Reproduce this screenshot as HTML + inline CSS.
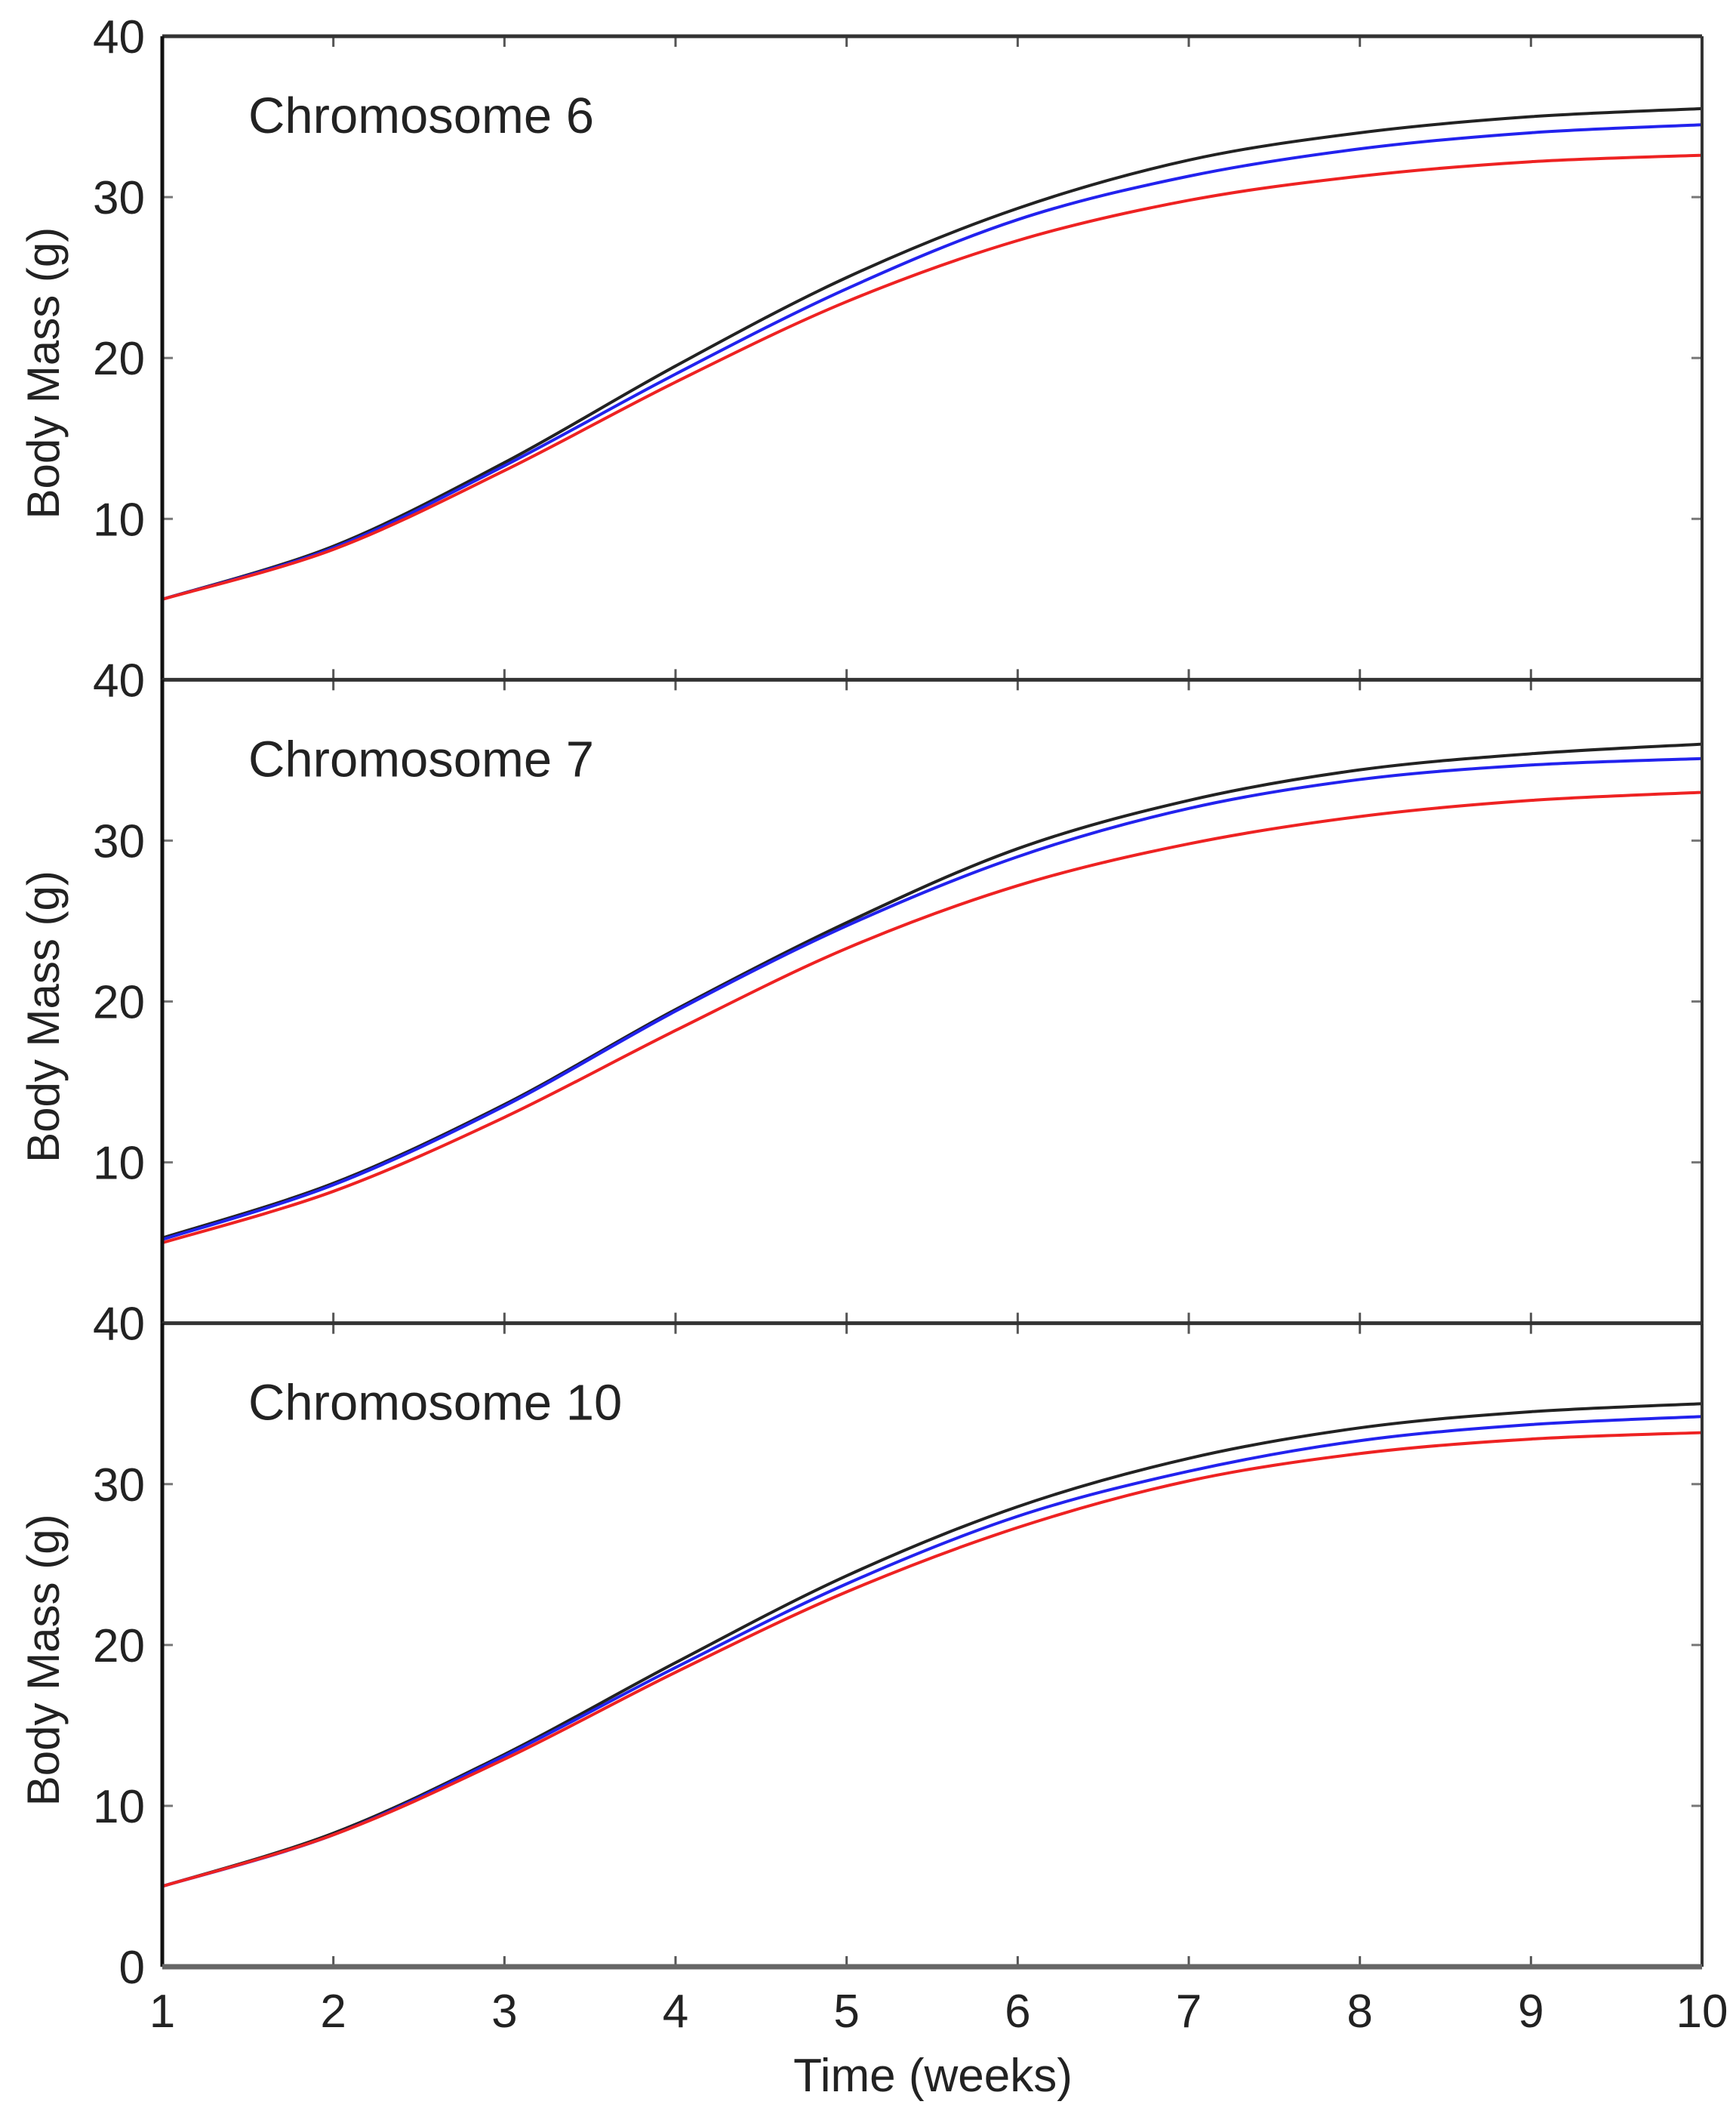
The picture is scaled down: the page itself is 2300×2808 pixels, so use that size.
<!DOCTYPE html>
<html><head><meta charset="utf-8"><style>
html,body{margin:0;padding:0;background:#fff;}
svg{display:block;font-family:"Liberation Sans",sans-serif;}
</style></head><body>
<svg id="chart" width="2300" height="2808" viewBox="0 0 2300 2808" xmlns="http://www.w3.org/2000/svg"></svg>
<script>
const weeks=[1,2,3,4,5,6,7,8,9,10];
const panelTitles=["Chromosome 6","Chromosome 7","Chromosome 10"];
const yTicks=[0,10,20,30,40];
const black6=[5.0,8.3,13.5,19.5,25.0,29.3,32.3,34.0,35.0,35.5];
const blue6=[5.0,8.2,13.3,19.0,24.3,28.6,31.3,33.0,34.0,34.5];
const red6=[5.0,8.1,13.0,18.5,23.5,27.3,29.8,31.3,32.2,32.6];
const black7=[5.3,8.7,13.6,19.5,24.9,29.5,32.5,34.4,35.4,36.0];
const blue7=[5.2,8.6,13.5,19.4,24.7,29.0,32.0,33.8,34.7,35.1];
const red7=[5.0,8.2,12.8,18.2,23.3,27.2,29.8,31.5,32.5,33.0];
const black10=[5.0,8.3,13.2,18.9,24.3,28.6,31.6,33.5,34.5,35.0];
const blue10=[5.0,8.2,13.1,18.6,23.8,28.0,30.8,32.7,33.7,34.2];
const red10=[5.0,8.2,12.9,18.3,23.3,27.3,30.2,31.9,32.8,33.2];
const panels=[[black6,blue6,red6],[black7,blue7,red7],[black10,blue10,red10]];
const colors=["#222","#2222ee","#ee2222"];
const names=["black","blue","red"];

const L=215,R=2255,T=48,B=2605,PH=(B-T)/3;
const NS="http://www.w3.org/2000/svg";
const svg=document.getElementById('chart');
function el(tag,attrs,parent){const e=document.createElementNS(NS,tag);for(const k in attrs)e.setAttribute(k,attrs[k]);(parent||svg).appendChild(e);return e;}
const xs=v=>L+(v-1)/9*(R-L);
function ys(p,v){return T+p*PH+(40-v)/40*PH;}

for(let p=0;p<3;p++){
  const g=el('g',{});
  
  
  const top=T+p*PH, bot=top+PH;
  weeks.forEach(w=>{
    const x=xs(w);
    el('line',{x1:x,y1:top,x2:x,y2:top+14,stroke:'#555','stroke-width':3},g);
    el('line',{x1:x,y1:bot,x2:x,y2:bot-14,stroke:'#555','stroke-width':3},g);
  });
  yTicks.forEach(t=>{
    const y=ys(p,t);
    el('line',{x1:L,y1:y,x2:L+14,y2:y,stroke:'#777','stroke-width':3},g);
    el('line',{x1:R,y1:y,x2:R-14,y2:y,stroke:'#777','stroke-width':3},g);
    if(t===0&&p<2) return;
    const tx=el('text',{x:192,y:y+22,'text-anchor':'end','font-size':62,fill:'#222'},g);
    tx.textContent=t;
    
    
  });
  panels[p].forEach((s,si)=>{
    const pts=weeks.map((w,i)=>[xs(w),ys(p,s[i])]);
    let d='M'+pts[0][0]+','+pts[0][1];
    for(let i=0;i<pts.length-1;i++){
      const p0=pts[Math.max(0,i-1)],p1=pts[i],p2=pts[i+1],p3=pts[Math.min(pts.length-1,i+2)];
      const c1=[p1[0]+(p2[0]-p0[0])/6,p1[1]+(p2[1]-p0[1])/6];
      const c2=[p2[0]-(p3[0]-p1[0])/6,p2[1]-(p3[1]-p1[1])/6];
      d+=` C${c1[0]},${c1[1]} ${c2[0]},${c2[1]} ${p2[0]},${p2[1]}`;
    }
    const path=el('path',{d:d,fill:'none',stroke:colors[si],'stroke-width':4},g);
    
    
  });
  const tt=el('text',{x:329,y:top+128,'font-size':67,fill:'#222'},g);
  tt.textContent=panelTitles[p];
  
  
  const yl=el('text',{x:0,y:0,'font-size':60,fill:'#222','text-anchor':'middle',transform:`translate(78,${top+PH/2+20}) rotate(-90)`},g);
  yl.textContent='Body Mass (g)';
  
  
  el('line',{x1:L,y1:top,x2:R,y2:top,stroke:'#333','stroke-width':5},g);
  el('line',{x1:L,y1:top,x2:L,y2:bot,stroke:'#111','stroke-width':5},g);
  el('line',{x1:R,y1:top,x2:R,y2:bot,stroke:'#333','stroke-width':4},g);
}
el('line',{x1:L,y1:B,x2:R,y2:B,stroke:'#666','stroke-width':7});
weeks.forEach(w=>{
  const t=el('text',{x:xs(w),y:2685,'text-anchor':'middle','font-size':62,fill:'#222'});
  t.textContent=w;
  
  
});
const xt=el('text',{x:1236,y:2770,'text-anchor':'middle','font-size':62,fill:'#222'});
xt.textContent='Time (weeks)';


</script>
</body></html>
